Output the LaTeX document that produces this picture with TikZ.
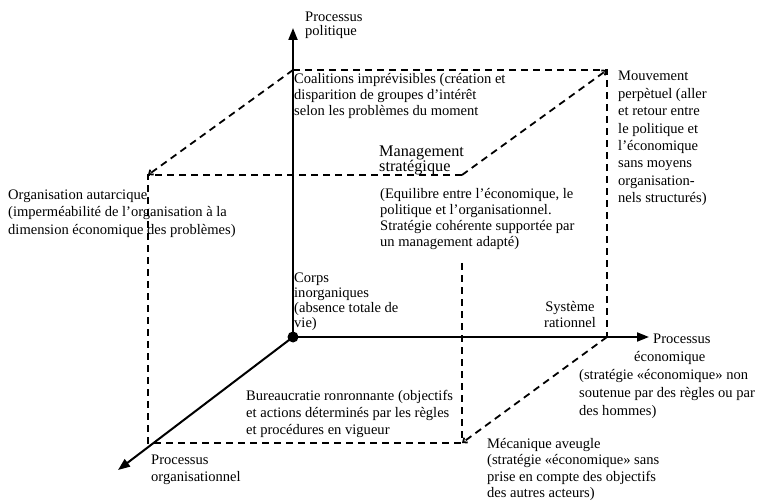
\documentclass[tikz,border=0pt]{standalone}
\usepackage{fontspec}
\setmainfont{Liberation Serif}
\usetikzlibrary{arrows.meta}
\begin{document}
\begin{tikzpicture}[x=1bp,y=-1bp,
  lbl/.style={inner sep=0pt, anchor=north west, align=left, font=\fontsize{14.6}{17}\selectfont},
  axis/.style={line width=2bp, -{Triangle[length=12bp,width=9bp]}},
  cube/.style={line width=1.8bp, dash pattern=on 7bp off 5bp},
  diag/.style={cube, -{Straight Barb[length=3.5bp,width=6bp]}}]
\useasboundingbox (0,0) rectangle (757,502);
% coordinates
\coordinate (O) at (293,337);
\coordinate (Ytip) at (293,28);
\coordinate (Xtip) at (649,337);
\coordinate (Ztip) at (118,470);
\coordinate (A) at (293,70);
\coordinate (B) at (607,70);
\coordinate (C) at (607,337);
\coordinate (D) at (148,175);
\coordinate (E) at (462,175);
\coordinate (F) at (462,443);
\coordinate (G) at (148,443);
\coordinate (Es) at (462,263);
% cube
\draw[cube] (A) -- (B) -- (C);
\draw[cube] (E) -- (D) -- (G) -- (F);
\draw[cube] (Es) -- (F);
\draw[diag] (A) -- (D);
\draw[diag] (E) -- (B);
\draw[diag] (C) -- (F);
% axes
\draw[axis] (O) -- (Ytip);
\draw[axis] (O) -- (Xtip);
\draw[axis] (O) -- (Ztip);
\fill (O) circle (5.5bp);
% labels
\node[lbl, font=\fontsize{14.6}{14}\selectfont] (pol) at (305,12) {Processus\\politique};
\node[lbl, font=\fontsize{14.6}{16}\selectfont] (coal) at (294,73.5) {Coalitions imprévisibles (création et\\disparition de groupes d’intérêt\\selon les problèmes du moment};
\node[lbl, font=\fontsize{16.3}{15}\selectfont] (mgt) at (379,145.5) {Management\\stratégique};
\node[lbl, font=\fontsize{14.6}{16}\selectfont] (equ) at (380,188.5) {(Equilibre entre l’économique, le\\politique et l’organisationnel.\\Stratégie cohérente supportée par\\un management adapté)};
\node[lbl, font=\fontsize{14.6}{17.5}\selectfont] (mouv) at (618,71) {Mouvement\\perpètuel (aller\\et retour entre\\le politique et\\l’économique\\sans moyens\\organisation-\\nels structurés)};
\node[lbl, font=\fontsize{14.6}{17.5}\selectfont] (org) at (8,189.5) {Organisation autarcique\\(imperméabilité de l’organisation à la\\dimension économique des problèmes)};
\node[lbl, font=\fontsize{14.6}{15}\selectfont] (corps) at (294,273) {Corps\\inorganiques\\(absence totale de\\vie)};
\node[lbl, anchor=north, align=center, font=\fontsize{14.6}{16}\selectfont] (sys) at (570,301.5) {Système\\rationnel};
\node[lbl] (eco1) at (653,333.5) {Processus};
\node[lbl] (eco2) at (634,351) {économique};
\node[lbl, font=\fontsize{14.6}{18}\selectfont] (eco3) at (579,369.5) {(stratégie «économique» non\\soutenue par des règles ou par\\des hommes)};
\node[lbl] (bur) at (246,390.5) {Bureaucratie ronronnante (objectifs\\et actions déterminés par les règles\\et procédures en vigueur};
\node[lbl] (porg) at (151,454.5) {Processus\\organisationnel};
\node[lbl, font=\fontsize{14.6}{16.5}\selectfont] (meca) at (487,438) {Mécanique aveugle\\(stratégie «économique» sans\\prise en compte des objectifs\\des autres acteurs)};
\end{tikzpicture}
\end{document}
